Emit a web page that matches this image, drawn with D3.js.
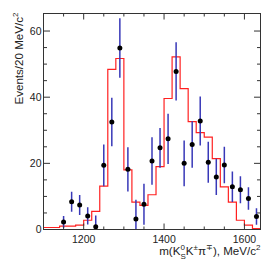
<!DOCTYPE html>
<html>
<head>
<meta charset="utf-8">
<script src="https://cdn.jsdelivr.net/npm/d3@7"></script>
<style>
  body { margin: 0; background: #fff; }
  svg { display: block; font-family: "Liberation Sans", Arial, sans-serif; }
</style>
</head>
<body>
<div id="chart"></div>
<script>
// MC histogram, 20 MeV bins starting at 1100
const binEdges = [1100, 1120, 1140, 1160, 1180, 1200, 1220, 1240, 1260, 1280, 1300, 1320, 1340, 1360,
  1380, 1400, 1420, 1440, 1460, 1480, 1500, 1520, 1540, 1560, 1580, 1600, 1620, 1640];
const mcCounts = [0.6, 0.6, 1.0, 1.0, 1.3, 2.8, 5.5, 13.1, 48.4, 51.7, 18.0, 8.3, 7.3,
  10.5, 19.0, 39.6, 52.2, 42.6, 32.6, 29.3, 27.9, 21.4, 12.9, 8.3, 2.8, 1.3, 0.3];

// data points with errors
const dataMass = [1150, 1170, 1190, 1210, 1230, 1250, 1270, 1290, 1310, 1330, 1350, 1370, 1390,
  1410, 1430, 1450, 1470, 1490, 1510, 1530, 1550, 1570, 1590, 1610, 1630];
const dataCounts = [2.3, 8.4, 7.4, 4.1, 0.8, 19.4, 32.5, 54.9, 18.2, 3.2, 7.6, 20.7, 24.7,
  27.4, 47.8, 20.0, 25.7, 32.8, 20.3, 15.9, 19.5, 12.9, 12.0, 9.4, 3.9];
const dataErrs = [1.8, 3.0, 3.0, 2.6, 3.4, 6.3, 7.3, 9.0, 6.7, 5.8, 6.2, 7.2, 6.0,
  7.6, 8.8, 6.9, 7.0, 7.4, 6.2, 5.5, 5.5, 4.6, 4.1, 3.4, 2.5];

const xMajor = [1200, 1400, 1600];
const yMajor = [0, 20, 40, 60];

const width = 274, height = 274;
const margin = {top: 13.5, right: 13.5, bottom: 44.5, left: 43.5};

const svg = d3.select('#chart').append('svg')
  .attr('width', width)
  .attr('height', height);

const x = d3.scaleLinear().domain([1100, 1640]).range([margin.left, width - margin.right]);
const y = d3.scaleLinear().domain([0, 65.3]).range([height - margin.bottom, margin.top]);

svg.append('clipPath').attr('id', 'plotclip')
  .append('rect')
    .attr('x', margin.left).attr('y', margin.top)
    .attr('width', x.range()[1] - margin.left)
    .attr('height', y.range()[0] - margin.top);

const plot = svg.append('g').attr('clip-path', 'url(#plotclip)');

// histogram as a step line
const histPts = mcCounts.map((v, i) => [binEdges[i], v]);
histPts.push([binEdges[binEdges.length - 1], mcCounts[mcCounts.length - 1]]);
plot.append('path')
  .attr('d', d3.line().x(d => x(d[0])).y(d => y(d[1])).curve(d3.curveStepAfter)(histPts))
  .attr('fill', 'none')
  .attr('stroke', '#ff2020')
  .attr('stroke-width', 1.2);

// error bars
plot.selectAll('line.err').data(dataMass).join('line')
  .attr('class', 'err')
  .attr('x1', (d, i) => x(d)).attr('x2', (d, i) => x(d))
  .attr('y1', (d, i) => y(dataCounts[i] - dataErrs[i]))
  .attr('y2', (d, i) => y(dataCounts[i] + dataErrs[i]))
  .attr('stroke', '#3838b8')
  .attr('stroke-width', 1.5);

plot.selectAll('circle.pt').data(dataMass).join('circle')
  .attr('class', 'pt')
  .attr('cx', d => x(d))
  .attr('cy', (d, i) => y(dataCounts[i]))
  .attr('r', 2.5)
  .attr('fill', '#000');

// frame + ticks (ROOT style, ticks inside on all four sides)
const axisColor = '#333';
const frame = svg.append('g');
frame.append('rect')
  .attr('x', margin.left).attr('y', margin.top)
  .attr('width', x.range()[1] - margin.left)
  .attr('height', y.range()[0] - margin.top)
  .attr('fill', 'none').attr('stroke', axisColor).attr('stroke-width', 1);

const xTicks = d3.range(1150, 1640, 50);
xTicks.forEach(t => {
  const len = xMajor.includes(t) ? 6 : 3;
  frame.append('line').attr('x1', x(t)).attr('x2', x(t))
    .attr('y1', y.range()[0]).attr('y2', y.range()[0] - len)
    .attr('stroke', axisColor);
  frame.append('line').attr('x1', x(t)).attr('x2', x(t))
    .attr('y1', margin.top).attr('y2', margin.top + len)
    .attr('stroke', axisColor);
});

const yTicks = d3.range(0, 65, 5);
yTicks.forEach(t => {
  const len = yMajor.includes(t) ? 6.5 : 3.5;
  frame.append('line').attr('y1', y(t)).attr('y2', y(t))
    .attr('x1', margin.left).attr('x2', margin.left + len)
    .attr('stroke', axisColor);
  frame.append('line').attr('y1', y(t)).attr('y2', y(t))
    .attr('x1', x.range()[1]).attr('x2', x.range()[1] - len)
    .attr('stroke', axisColor);
});

svg.selectAll('text.xt').data(xMajor).join('text')
  .attr('class', 'xt')
  .attr('x', d => x(d))
  .attr('y', 243)
  .attr('text-anchor', 'middle')
  .attr('font-size', '10.5px')
  .attr('fill', '#222')
  .text(d => d);

svg.selectAll('text.yt').data(yMajor).join('text')
  .attr('class', 'yt')
  .attr('x', 41.5)
  .attr('y', d => y(d) + 3.8)
  .attr('text-anchor', 'end')
  .attr('font-size', '10.5px')
  .attr('fill', '#222')
  .text(d => d);

// y axis title
const yt = svg.append('text')
  .attr('transform', 'translate(22.5, 12.5) rotate(-90)')
  .attr('text-anchor', 'end')
  .attr('font-size', '11.6px')
  .attr('fill', '#222');
yt.append('tspan').text('Events/20 MeV/c');
yt.append('tspan').attr('font-size', '8px').attr('dy', -4.8).text('2');

// x axis title
const xt = svg.append('text')
  .attr('x', 260.5)
  .attr('y', 254.5)
  .attr('text-anchor', 'end')
  .attr('font-size', '11.6px')
  .attr('fill', '#222');
xt.append('tspan').text('m(K');
xt.append('tspan').attr('font-size', '8px').attr('dy', -4.8).text('0');
xt.append('tspan').attr('font-size', '8px').attr('dx', -4.5).attr('dy', 9).text('S');
xt.append('tspan').attr('dy', -4.2).text('K');
xt.append('tspan').attr('font-size', '8px').attr('dy', -4.8).text('±');
xt.append('tspan').attr('dy', 4.8).text('π');
xt.append('tspan').attr('font-size', '8px').attr('dy', -4.8).text('∓');
xt.append('tspan').attr('dy', 4.8).text('), MeV/c');
xt.append('tspan').attr('font-size', '8px').attr('dy', -4.8).text('2');
</script>
</body>
</html>
